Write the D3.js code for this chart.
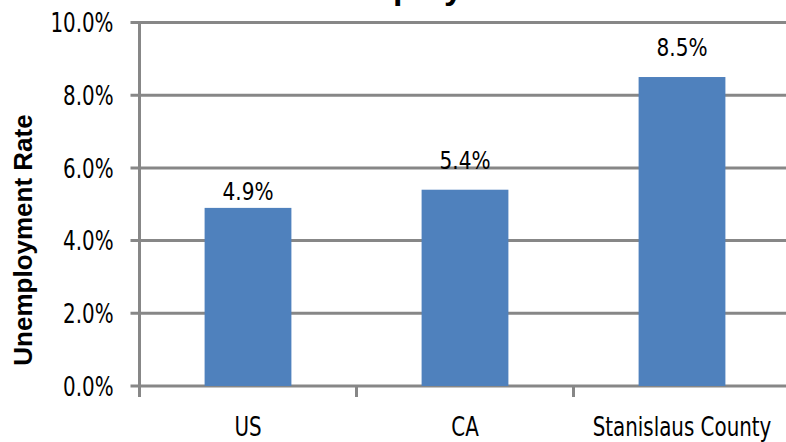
<!DOCTYPE html>
<html><head><meta charset="utf-8">
<script src="https://cdn.jsdelivr.net/npm/d3@7"></script>
<style>
html,body{margin:0;padding:0;background:#fff;overflow:hidden}
text{font-family:"DejaVu Sans Condensed","DejaVu Sans",sans-serif}
</style></head><body>
<svg id="c" width="786" height="442"></svg>
<script>
const categories = ["US", "CA", "Stanislaus County"];
const values = [0.049, 0.054, 0.085];
const yTicks = [0, 0.02, 0.04, 0.06, 0.08, 0.10];
const chartTitle = "Unemployment Rate";
const yTitle = "Unemployment Rate";

const W = 786, H = 442;
const mLeft = 139.5, mTop = 22.5, mBottom = 386;
const step = 217;
const gridColor = "#878787";
const barColor = "#4F81BD";
const labelGap = [8, 21, 21];
const sxAxis = 0.85;   // horizontal squeeze to mimic the narrow face
const sxLabel = 0.93;

const svg = d3.select("#c");

const x = d3.scaleBand().domain(categories)
  .range([mLeft, mLeft + step * categories.length])
  .paddingInner(0.6).paddingOuter(0.3);
const y = d3.scaleLinear().domain([0, 0.10]).range([mBottom, mTop]);
const fmt = d3.format(".1%");

// gridlines
svg.append("g").selectAll("line").data(yTicks).join("line")
  .attr("x1", mLeft - 9).attr("x2", W + 10)
  .attr("y1", d => y(d)).attr("y2", d => y(d))
  .attr("stroke", gridColor).attr("stroke-width", 3);

// y axis labels
const yPad = 26;
const yAxis = d3.axisLeft(y).tickValues(yTicks).tickFormat(fmt).tickSize(0).tickPadding(yPad);
const gy = svg.append("g").attr("transform", `translate(${mLeft},0)`).call(yAxis);
gy.select(".domain").remove();
gy.selectAll("text").attr("font-size", 26).attr("fill", "#000")
  .attr("x", -yPad / sxAxis).attr("dy", "0.36em")
  .attr("transform", `scale(${sxAxis},1)`)
  .style("font-family", '"DejaVu Sans Condensed","DejaVu Sans",sans-serif');

// bars
svg.append("g").selectAll("rect").data(values).join("rect")
  .attr("x", (d, i) => x(categories[i]))
  .attr("width", x.bandwidth())
  .attr("y", d => y(d))
  .attr("height", d => y(0) - y(d))
  .attr("fill", barColor);

// y axis line
svg.append("line").attr("x1", mLeft).attr("x2", mLeft)
  .attr("y1", y(0.10) - 1.5).attr("y2", mBottom + 11)
  .attr("stroke", gridColor).attr("stroke-width", 3);

// x boundary ticks
const bounds = d3.range(categories.length + 1).map(i => x.range()[0] + i * x.step());
svg.append("g").selectAll("line").data(bounds).join("line")
  .attr("x1", d => d).attr("x2", d => d)
  .attr("y1", mBottom).attr("y2", mBottom + 11)
  .attr("stroke", gridColor).attr("stroke-width", 3);

// x axis labels
const xAxis = d3.axisBottom(x).tickSize(0).tickPadding(0);
const gx = svg.append("g").attr("transform", `translate(0,${mBottom})`).call(xAxis);
gx.select(".domain").remove();
gx.selectAll("text").attr("font-size", 26).attr("fill", "#000")
  .attr("dy", null).attr("y", 50)
  .attr("transform", `scale(${sxAxis},1)`)
  .style("font-family", '"DejaVu Sans Condensed","DejaVu Sans",sans-serif');

// data labels
svg.append("g").selectAll("text").data(values).join("text")
  .attr("transform", (d, i) =>
    `translate(${x(categories[i]) + x.bandwidth() / 2},${y(d) - labelGap[i]}) scale(${sxLabel},1)`)
  .attr("text-anchor", "middle").attr("font-size", 24).attr("fill", "#000")
  .text(d => fmt(d));

// y title
svg.append("text")
  .attr("transform", `translate(32,240) rotate(-90)`)
  .attr("text-anchor", "middle")
  .style("font-family", '"Liberation Sans",Arial,sans-serif')
  .attr("font-weight", "bold").attr("font-size", 26).attr("fill", "#000")
  .text(yTitle);

// chart title (mostly cut off at top)
svg.append("text")
  .attr("x", 463).attr("y", -1)
  .attr("text-anchor", "middle")
  .style("font-family", '"Liberation Sans",Arial,sans-serif')
  .attr("font-weight", "bold").attr("font-size", 34).attr("fill", "#000")
  .text(chartTitle);
</script>
</body></html>
